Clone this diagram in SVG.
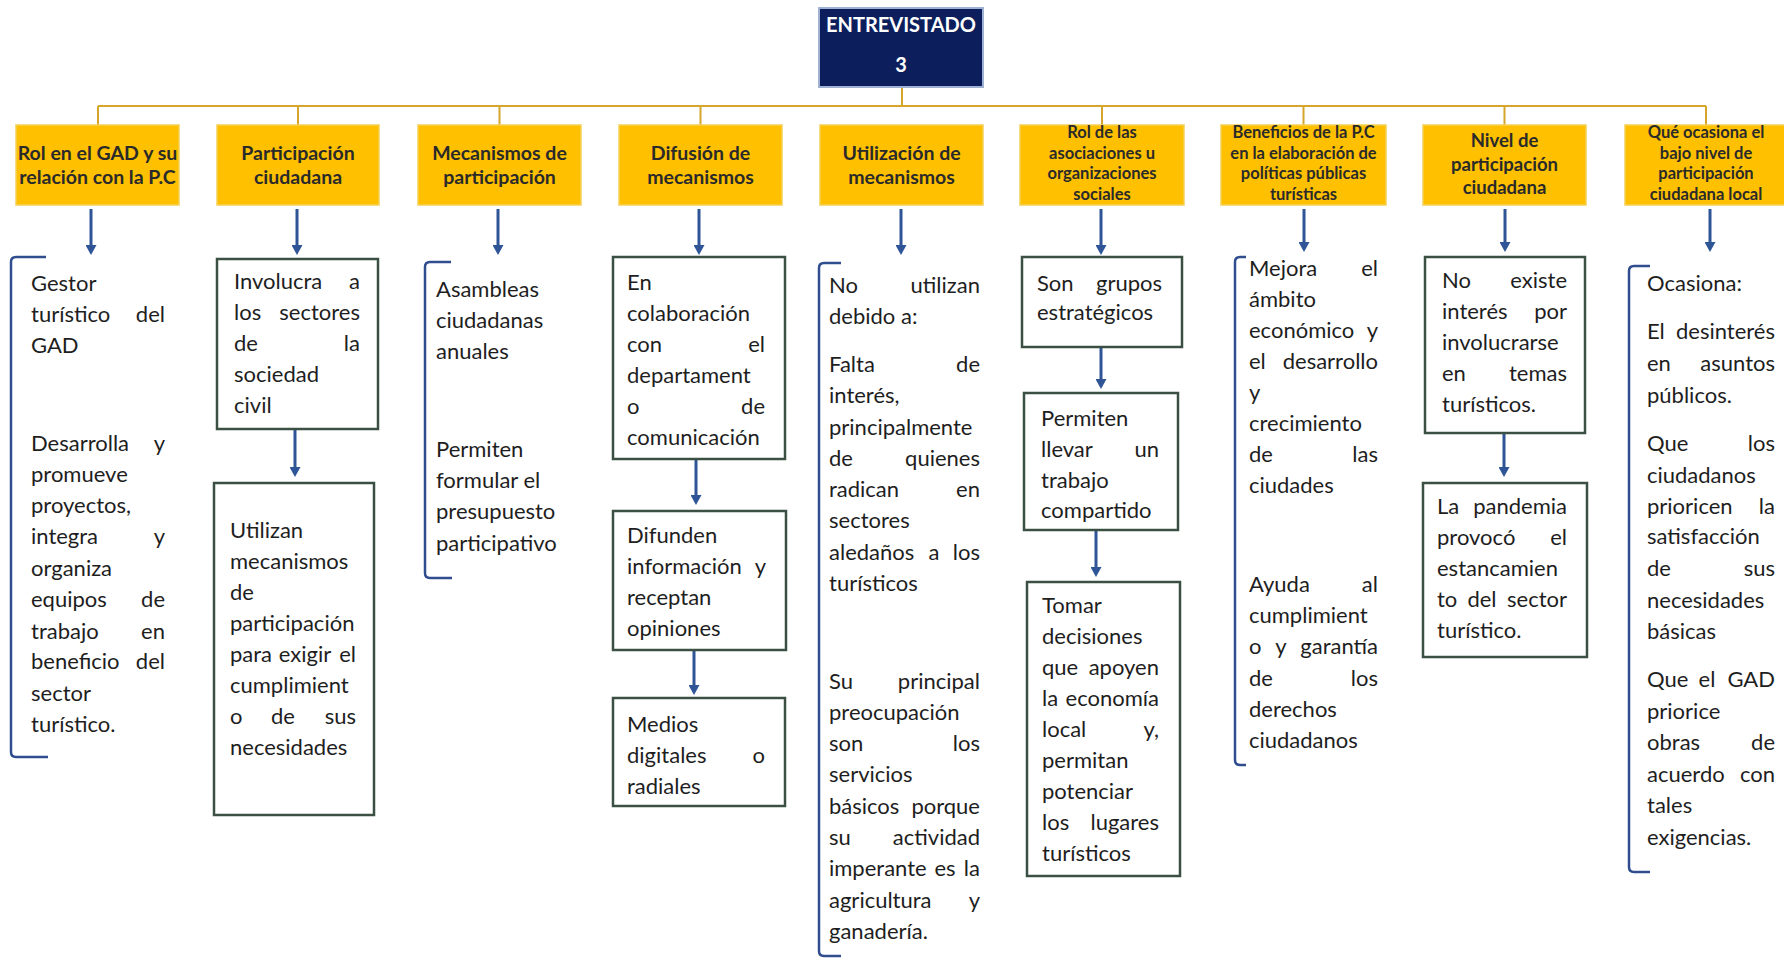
<svg xmlns="http://www.w3.org/2000/svg" width="1784" height="958" viewBox="0 0 1784 958">
<style>
.bg{fill:#ffffff}
.hdr{fill:#FFC000;stroke:#f5cf55;stroke-width:1.5}
.top{fill:#0c1f5c;stroke:#9fb2d4;stroke-width:2}
.tt{font-family:Lato,"Liberation Sans",sans-serif;font-weight:bold;fill:#ffffff;text-anchor:middle}
.yt{font-family:Lato,"Liberation Sans",sans-serif;font-weight:bold;fill:#2a2a2a;text-anchor:middle}
.y2{font-size:19.5px}
.y3{font-size:18.5px}
.y4{font-size:16.5px}
.tx{font-family:Lato,"Liberation Sans",sans-serif;font-size:22px;fill:#1e1e1e}
.e{text-anchor:end}
.m{text-anchor:middle}
.box{fill:#ffffff;stroke:#3b5043;stroke-width:2.5}
.br{fill:none;stroke:#2f4d8f;stroke-width:2.5}
.conn{fill:none;stroke:#d6a62c;stroke-width:2}
.arr{fill:none;stroke:#2f5597;stroke-width:3;marker-end:url(#ah)}
</style>
<defs>
<marker id="ah" markerWidth="10" markerHeight="11" refX="4" refY="5.5" orient="auto" markerUnits="userSpaceOnUse">
<path d="M0,0 L10,5.5 L0,11 z" fill="#2f5597"/>
</marker>
</defs>
<rect class="bg" x="0" y="0" width="1784" height="958"/>

<g id="connectors">
<path class="conn" d="M902,87 V106 M98,106 H1706 M98,106 V125 M298,106 V125 M499.5,106 V125 M700.5,106 V125 M1102,106 V125 M1303.5,106 V125 M1504.5,106 V125 M1706,106 V125"/>
<line class="arr" x1="91" y1="209" x2="91" y2="249"/>
<line class="arr" x1="297" y1="209" x2="297" y2="249"/>
<line class="arr" x1="498" y1="209" x2="498" y2="249"/>
<line class="arr" x1="699" y1="209" x2="699" y2="249"/>
<line class="arr" x1="901" y1="209" x2="901" y2="249"/>
<line class="arr" x1="1101" y1="209" x2="1101" y2="249"/>
<line class="arr" x1="1304" y1="209" x2="1304" y2="246"/>
<line class="arr" x1="1505" y1="209" x2="1505" y2="246"/>
<line class="arr" x1="1710" y1="209" x2="1710" y2="246"/>
<line class="arr" x1="295" y1="430" x2="295" y2="471"/>
<line class="arr" x1="696" y1="460" x2="696" y2="499"/>
<line class="arr" x1="694" y1="650" x2="694" y2="689"/>
<line class="arr" x1="1101" y1="347" x2="1101" y2="383"/>
<line class="arr" x1="1096" y1="530" x2="1096" y2="571"/>
<line class="arr" x1="1504" y1="433" x2="1504" y2="471"/>
</g>

<g id="entrevistado">
<rect class="top" x="819" y="8" width="164" height="79"/>
<text class="tt" x="901" y="32" font-size="20">ENTREVISTADO</text>
<text class="tt" x="901" y="72" font-size="20">3</text>
</g>

<g id="h1"><rect class="hdr" x="16" y="125" width="163" height="80"/>
<text class="yt y2" x="97.5" y="160">Rol en el GAD y su</text>
<text class="yt y2" x="97.5" y="184">relación con la P.C</text></g>
<g id="h2"><rect class="hdr" x="217" y="125" width="162" height="80"/>
<text class="yt y2" x="298" y="160">Participación</text>
<text class="yt y2" x="298" y="184">ciudadana</text></g>
<g id="h3"><rect class="hdr" x="418" y="125" width="163" height="80"/>
<text class="yt y2" x="499.5" y="160">Mecanismos de</text>
<text class="yt y2" x="499.5" y="184">participación</text></g>
<g id="h4"><rect class="hdr" x="619" y="125" width="163" height="80"/>
<text class="yt y2" x="700.5" y="160">Difusión de</text>
<text class="yt y2" x="700.5" y="184">mecanismos</text></g>
<g id="h5"><rect class="hdr" x="820" y="125" width="163" height="80"/>
<text class="yt y2" x="901.5" y="160">Utilización de</text>
<text class="yt y2" x="901.5" y="184">mecanismos</text></g>
<g id="h6"><rect class="hdr" x="1020" y="125" width="164" height="80"/>
<text class="yt y4" x="1102" y="138">Rol de las</text>
<text class="yt y4" x="1102" y="159">asociaciones u</text>
<text class="yt y4" x="1102" y="179">organizaciones</text>
<text class="yt y4" x="1102" y="200">sociales</text></g>
<g id="h7"><rect class="hdr" x="1221" y="125" width="165" height="80"/>
<text class="yt y4" x="1303.5" y="138">Beneficios de la P.C</text>
<text class="yt y4" x="1303.5" y="159">en la elaboración de</text>
<text class="yt y4" x="1303.5" y="179">políticas públicas</text>
<text class="yt y4" x="1303.5" y="200">turísticas</text></g>
<g id="h8"><rect class="hdr" x="1423" y="125" width="163" height="80"/>
<text class="yt y3" x="1504.5" y="147">Nivel de</text>
<text class="yt y3" x="1504.5" y="171">participación</text>
<text class="yt y3" x="1504.5" y="194">ciudadana</text></g>
<g id="h9"><rect class="hdr" x="1625" y="125" width="163" height="80"/>
<text class="yt y4" x="1706" y="138">Qué ocasiona el</text>
<text class="yt y4" x="1706" y="159">bajo nivel de</text>
<text class="yt y4" x="1706" y="179">participación</text>
<text class="yt y4" x="1706" y="200">ciudadana local</text></g>

<g id="c1">
<path class="br" d="M46,257 H16 Q11,257 11,262 V752 Q11,757 16,757 H48"/>
<text class="tx" x="31" y="291">Gestor</text>
<text class="tx" x="31" y="322">turístico</text><text class="tx e" x="165" y="322">del</text>
<text class="tx" x="31" y="353">GAD</text>
<text class="tx" x="31" y="451">Desarrolla</text><text class="tx e" x="165" y="451">y</text>
<text class="tx" x="31" y="482">promueve</text>
<text class="tx" x="31" y="513">proyectos,</text>
<text class="tx" x="31" y="544">integra</text><text class="tx e" x="165" y="544">y</text>
<text class="tx" x="31" y="576">organiza</text>
<text class="tx" x="31" y="607">equipos</text><text class="tx e" x="165" y="607">de</text>
<text class="tx" x="31" y="639">trabajo</text><text class="tx e" x="165" y="639">en</text>
<text class="tx" x="31" y="669">beneficio</text><text class="tx e" x="165" y="669">del</text>
<text class="tx" x="31" y="701">sector</text>
<text class="tx" x="31" y="732">turístico.</text>
</g>

<g id="c2a">
<rect class="box" x="217" y="259" width="161" height="170"/>
<text class="tx" x="234" y="289">Involucra</text><text class="tx e" x="360" y="289">a</text>
<text class="tx" x="234" y="320">los</text><text class="tx e" x="360" y="320">sectores</text>
<text class="tx" x="234" y="351">de</text><text class="tx e" x="360" y="351">la</text>
<text class="tx" x="234" y="382">sociedad</text>
<text class="tx" x="234" y="413">civil</text>
</g>
<g id="c2b">
<rect class="box" x="214" y="483" width="160" height="332"/>
<text class="tx" x="230" y="538">Utilizan</text>
<text class="tx" x="230" y="569">mecanismos</text>
<text class="tx" x="230" y="600">de</text>
<text class="tx" x="230" y="631">participación</text>
<text class="tx" x="230" y="662">para</text><text class="tx m" x="305" y="662">exigir</text><text class="tx e" x="356" y="662">el</text>
<text class="tx" x="230" y="693">cumplimient</text>
<text class="tx" x="230" y="724">o</text><text class="tx m" x="283" y="724">de</text><text class="tx e" x="356" y="724">sus</text>
<text class="tx" x="230" y="755">necesidades</text>
</g>

<g id="c3">
<path class="br" d="M451,262 H430 Q425,262 425,267 V573 Q425,578 430,578 H452"/>
<text class="tx" x="436" y="297">Asambleas</text>
<text class="tx" x="436" y="328">ciudadanas</text>
<text class="tx" x="436" y="359">anuales</text>
<text class="tx" x="436" y="457">Permiten</text>
<text class="tx" x="436" y="488">formular el</text>
<text class="tx" x="436" y="519">presupuesto</text>
<text class="tx" x="436" y="551">participativo</text>
</g>

<g id="c4a">
<rect class="box" x="613" y="257" width="172" height="202"/>
<text class="tx" x="627" y="290">En</text>
<text class="tx" x="627" y="321">colaboración</text>
<text class="tx" x="627" y="352">con</text><text class="tx e" x="765" y="352">el</text>
<text class="tx" x="627" y="383">departament</text>
<text class="tx" x="627" y="414">o</text><text class="tx e" x="765" y="414">de</text>
<text class="tx" x="627" y="445">comunicación</text>
</g>
<g id="c4b">
<rect class="box" x="613" y="511" width="173" height="139"/>
<text class="tx" x="627" y="543">Difunden</text>
<text class="tx" x="627" y="574">información</text><text class="tx e" x="766" y="574">y</text>
<text class="tx" x="627" y="605">receptan</text>
<text class="tx" x="627" y="636">opiniones</text>
</g>
<g id="c4c">
<rect class="box" x="613" y="698" width="172" height="108"/>
<text class="tx" x="627" y="732">Medios</text>
<text class="tx" x="627" y="763">digitales</text><text class="tx e" x="765" y="763">o</text>
<text class="tx" x="627" y="794">radiales</text>
</g>

<g id="c5">
<path class="br" d="M841,263 H824 Q819,263 819,268 V951 Q819,956 824,956 H841"/>
<text class="tx" x="829" y="293">No</text><text class="tx e" x="980" y="293">utilizan</text>
<text class="tx" x="829" y="324">debido a:</text>
<text class="tx" x="829" y="372">Falta</text><text class="tx e" x="980" y="372">de</text>
<text class="tx" x="829" y="403">interés,</text>
<text class="tx" x="829" y="435">principalmente</text>
<text class="tx" x="829" y="466">de</text><text class="tx e" x="980" y="466">quienes</text>
<text class="tx" x="829" y="497">radican</text><text class="tx e" x="980" y="497">en</text>
<text class="tx" x="829" y="528">sectores</text>
<text class="tx" x="829" y="560">aledaños</text><text class="tx m" x="934" y="560">a</text><text class="tx e" x="980" y="560">los</text>
<text class="tx" x="829" y="591">turísticos</text>
<text class="tx" x="829" y="689">Su</text><text class="tx e" x="980" y="689">principal</text>
<text class="tx" x="829" y="720">preocupación</text>
<text class="tx" x="829" y="751">son</text><text class="tx e" x="980" y="751">los</text>
<text class="tx" x="829" y="782">servicios</text>
<text class="tx" x="829" y="814">básicos</text><text class="tx e" x="980" y="814">porque</text>
<text class="tx" x="829" y="845">su</text><text class="tx e" x="980" y="845">actividad</text>
<text class="tx" x="829" y="876">imperante</text><text class="tx m" x="945" y="876">es</text><text class="tx e" x="980" y="876">la</text>
<text class="tx" x="829" y="908">agricultura</text><text class="tx e" x="980" y="908">y</text>
<text class="tx" x="829" y="939">ganadería.</text>
</g>

<g id="c6a">
<rect class="box" x="1022" y="257" width="160" height="90"/>
<text class="tx" x="1037" y="291">Son</text><text class="tx e" x="1162" y="291">grupos</text>
<text class="tx" x="1037" y="320">estratégicos</text>
</g>
<g id="c6b">
<rect class="box" x="1024" y="393" width="154" height="137"/>
<text class="tx" x="1041" y="426">Permiten</text>
<text class="tx" x="1041" y="457">llevar</text><text class="tx e" x="1159" y="457">un</text>
<text class="tx" x="1041" y="488">trabajo</text>
<text class="tx" x="1041" y="518">compartido</text>
</g>
<g id="c6c">
<rect class="box" x="1027" y="582" width="153" height="294"/>
<text class="tx" x="1042" y="613">Tomar</text>
<text class="tx" x="1042" y="644">decisiones</text>
<text class="tx" x="1042" y="675">que</text><text class="tx e" x="1159" y="675">apoyen</text>
<text class="tx" x="1042" y="706">la</text><text class="tx e" x="1159" y="706">economía</text>
<text class="tx" x="1042" y="737">local</text><text class="tx e" x="1159" y="737">y,</text>
<text class="tx" x="1042" y="768">permitan</text>
<text class="tx" x="1042" y="799">potenciar</text>
<text class="tx" x="1042" y="830">los</text><text class="tx e" x="1159" y="830">lugares</text>
<text class="tx" x="1042" y="861">turísticos</text>
</g>

<g id="c7">
<path class="br" d="M1246,257 H1240 Q1235,257 1235,262 V760 Q1235,765 1240,765 H1246"/>
<text class="tx" x="1249" y="276">Mejora</text><text class="tx e" x="1378" y="276">el</text>
<text class="tx" x="1249" y="307">ámbito</text>
<text class="tx" x="1249" y="338">económico</text><text class="tx e" x="1378" y="338">y</text>
<text class="tx" x="1249" y="369">el</text><text class="tx e" x="1378" y="369">desarrollo</text>
<text class="tx" x="1249" y="400">y</text>
<text class="tx" x="1249" y="431">crecimiento</text>
<text class="tx" x="1249" y="462">de</text><text class="tx e" x="1378" y="462">las</text>
<text class="tx" x="1249" y="493">ciudades</text>
<text class="tx" x="1249" y="592">Ayuda</text><text class="tx e" x="1378" y="592">al</text>
<text class="tx" x="1249" y="623">cumplimient</text>
<text class="tx" x="1249" y="654">o</text><text class="tx m" x="1281" y="654">y</text><text class="tx e" x="1378" y="654">garantía</text>
<text class="tx" x="1249" y="686">de</text><text class="tx e" x="1378" y="686">los</text>
<text class="tx" x="1249" y="717">derechos</text>
<text class="tx" x="1249" y="748">ciudadanos</text>
</g>

<g id="c8a">
<rect class="box" x="1425" y="257" width="160" height="176"/>
<text class="tx" x="1442" y="288">No</text><text class="tx e" x="1567" y="288">existe</text>
<text class="tx" x="1442" y="319">interés</text><text class="tx e" x="1567" y="319">por</text>
<text class="tx" x="1442" y="350">involucrarse</text>
<text class="tx" x="1442" y="381">en</text><text class="tx e" x="1567" y="381">temas</text>
<text class="tx" x="1442" y="412">turísticos.</text>
</g>
<g id="c8b">
<rect class="box" x="1423" y="483" width="164" height="174"/>
<text class="tx" x="1437" y="514">La</text><text class="tx e" x="1567" y="514">pandemia</text>
<text class="tx" x="1437" y="545">provocó</text><text class="tx e" x="1567" y="545">el</text>
<text class="tx" x="1437" y="576">estancamien</text>
<text class="tx" x="1437" y="607">to</text><text class="tx m" x="1482" y="607">del</text><text class="tx e" x="1567" y="607">sector</text>
<text class="tx" x="1437" y="638">turístico.</text>
</g>

<g id="c9">
<path class="br" d="M1650,266 H1634 Q1629,266 1629,271 V867 Q1629,872 1634,872 H1650"/>
<text class="tx" x="1647" y="291">Ocasiona:</text>
<text class="tx" x="1647" y="339">El</text><text class="tx e" x="1775" y="339">desinterés</text>
<text class="tx" x="1647" y="371">en</text><text class="tx e" x="1775" y="371">asuntos</text>
<text class="tx" x="1647" y="403">públicos.</text>
<text class="tx" x="1647" y="451">Que</text><text class="tx e" x="1775" y="451">los</text>
<text class="tx" x="1647" y="483">ciudadanos</text>
<text class="tx" x="1647" y="514">prioricen</text><text class="tx e" x="1775" y="514">la</text>
<text class="tx" x="1647" y="544">satisfacción</text>
<text class="tx" x="1647" y="576">de</text><text class="tx e" x="1775" y="576">sus</text>
<text class="tx" x="1647" y="608">necesidades</text>
<text class="tx" x="1647" y="639">básicas</text>
<text class="tx" x="1647" y="687">Que</text><text class="tx m" x="1707" y="687">el</text><text class="tx e" x="1775" y="687">GAD</text>
<text class="tx" x="1647" y="719">priorice</text>
<text class="tx" x="1647" y="750">obras</text><text class="tx e" x="1775" y="750">de</text>
<text class="tx" x="1647" y="782">acuerdo</text><text class="tx e" x="1775" y="782">con</text>
<text class="tx" x="1647" y="813">tales</text>
<text class="tx" x="1647" y="845">exigencias.</text>
</g>
</svg>
